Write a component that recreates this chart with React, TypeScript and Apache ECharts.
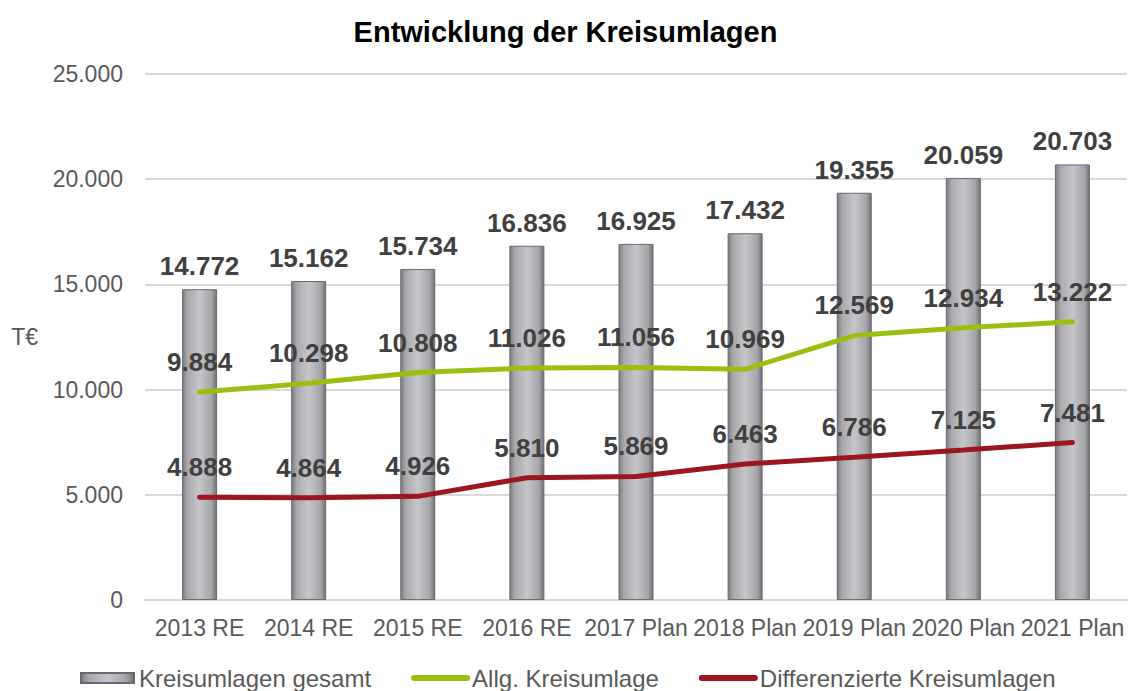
import React, { useEffect, useRef } from "react";
import * as echarts from "echarts";

const categories = ["2013 RE", "2014 RE", "2015 RE", "2016 RE", "2017 Plan", "2018 Plan", "2019 Plan", "2020 Plan", "2021 Plan"];
const gesamt = [14772, 15162, 15734, 16836, 16925, 17432, 19355, 20059, 20703];
const allg = [9884, 10298, 10808, 11026, 11056, 10969, 12569, 12934, 13222];
const diff = [4888, 4864, 4926, 5810, 5869, 6463, 6786, 7125, 7481];
const yTicks = [0, 5000, 10000, 15000, 20000, 25000];

const fmt = (v: number) => v.toLocaleString("de-DE");

export default function App() {
  const ref = useRef<HTMLDivElement>(null);
  useEffect(() => {
    if (!ref.current) return;
    const chart = echarts.init(ref.current, undefined, { renderer: "svg" });
    const barGrad = new echarts.graphic.LinearGradient(0, 0, 1, 0, [
      { offset: 0, color: "#7e7e82" },
      { offset: 0.15, color: "#a9a9ad" },
      { offset: 0.5, color: "#c6c6ca" },
      { offset: 0.85, color: "#a6a6aa" },
      { offset: 1, color: "#727276" },
    ]);
    const font = "Liberation Sans, Arial, sans-serif";
    const valLabel = (distance: number) => ({
      show: true,
      position: "top",
      distance,
      fontSize: 26,
      fontWeight: "bold",
      color: "#404040",
      fontFamily: font,
      formatter: (p: any) => fmt(p.value),
    });
    chart.setOption({
      animation: false,
      textStyle: { fontFamily: font },
      title: {
        text: "Entwicklung der Kreisumlagen",
        left: "center",
        top: 12,
        textStyle: { fontSize: 29, fontWeight: "bold", color: "#000", fontFamily: font },
      },
      grid: { left: 145, right: 4, top: 74, bottom: 91, containLabel: false },
      legend: {
        bottom: -4,
        left: 75,
        itemGap: 40,
        itemWidth: 53,
        itemHeight: 10,
        lineStyle: { width: 6, cap: "round" },
        textStyle: { fontSize: 24, color: "#595959", fontFamily: font },
        data: [
          { name: "Kreisumlagen gesamt", icon: "rect" },
          { name: "Allg. Kreisumlage", itemStyle: { opacity: 0 } },
          { name: "Differenzierte Kreisumlagen", itemStyle: { opacity: 0 } },
        ],
      },
      xAxis: {
        type: "category",
        data: categories,
        axisLine: { lineStyle: { color: "#d9d9d9", width: 2 } },
        axisTick: { show: false },
        axisLabel: { fontSize: 23, color: "#595959", margin: 16, interval: 0 },
      },
      yAxis: {
        type: "value",
        min: 0,
        max: 25000,
        interval: 5000,
        name: "T€",
        nameLocation: "middle",
        nameRotate: 0,
        nameGap: 107,
        nameTextStyle: { fontSize: 23, color: "#595959", align: "right" },
        axisLine: { show: false },
        axisTick: { show: false },
        splitLine: { lineStyle: { color: "#d9d9d9", width: 2 } },
        axisLabel: {
          fontSize: 23,
          color: "#595959",
          margin: 22,
          formatter: (v: number) => (yTicks.includes(v) ? fmt(v) : ""),
        },
      },
      series: [
        {
          name: "Kreisumlagen gesamt",
          type: "bar",
          data: gesamt,
          barWidth: 35,
          itemStyle: { color: barGrad, borderColor: "#6a6a6e", borderWidth: 1 },
          label: valLabel(10),
          z: 1,
        },
        {
          name: "Allg. Kreisumlage",
          type: "line",
          data: allg,
          symbol: "circle",
          symbolSize: 0.1,
          showSymbol: true,
          lineStyle: { color: "#9bbf0f", width: 5, cap: "round" },
          itemStyle: { color: "#9bbf0f" },
          label: valLabel(17),
          z: 3,
        },
        {
          name: "Differenzierte Kreisumlagen",
          type: "line",
          data: diff,
          symbol: "circle",
          symbolSize: 0.1,
          showSymbol: true,
          lineStyle: { color: "#9c1520", width: 5, cap: "round" },
          itemStyle: { color: "#9c1520" },
          label: valLabel(17),
          z: 3,
        },
      ],
    });
    return () => chart.dispose();
  }, []);
  return <div ref={ref} style={{ width: 1131, height: 691, position: "absolute", left: 0, top: 0 }} />;
}
